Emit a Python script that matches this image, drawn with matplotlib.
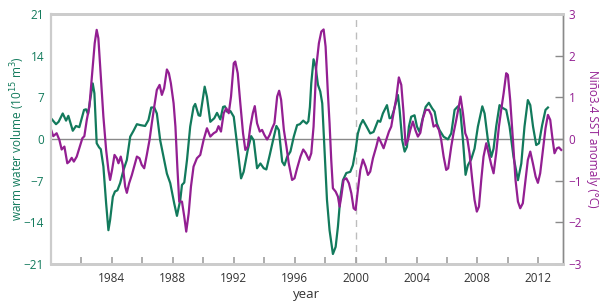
import matplotlib
matplotlib.use('Agg')
import matplotlib.pyplot as plt

plt.rcParams['font.family'] = ['Open Sans', 'DejaVu Sans']

GREEN = '#127a5c'
PURPLE = '#931f92'

# warm water volume (10^15 m^3)
wwv_year = [1980.0, 1980.33, 1980.5, 1980.77, 1980.99, 1981.14, 1981.43, 1981.64,
            1981.86, 1982.17, 1982.3, 1982.43, 1982.74, 1982.85, 1983.0, 1983.16,
            1983.27, 1983.44, 1983.62, 1983.77, 1983.88, 1984.06, 1984.2, 1984.36,
            1984.54, 1984.76, 1984.98, 1985.2, 1985.42, 1985.64, 1985.86, 1986.18,
            1986.4, 1986.58, 1986.78, 1986.95, 1987.17, 1987.39, 1987.61, 1987.83,
            1988.09, 1988.27, 1988.49, 1988.6, 1988.75, 1988.93, 1989.14, 1989.36,
            1989.47, 1989.69, 1989.8, 1990.09, 1990.24, 1990.46, 1990.72, 1990.9,
            1991.12, 1991.3, 1991.42, 1991.56, 1991.78, 1992.0, 1992.21, 1992.48,
            1992.65, 1992.92, 1993.14, 1993.31, 1993.53, 1993.75, 1993.97, 1994.14,
            1994.36, 1994.58, 1994.8, 1994.96, 1995.18, 1995.33, 1995.5, 1995.72,
            1995.94, 1996.16, 1996.34, 1996.56, 1996.78, 1996.9, 1997.0, 1997.09,
            1997.24, 1997.37, 1997.53, 1997.68, 1997.81, 1997.96, 1998.12, 1998.29,
            1998.51, 1998.69, 1998.84, 1999.0, 1999.17, 1999.39, 1999.65, 1999.82,
            2000.0, 2000.15, 2000.31, 2000.48, 2000.7, 2000.96, 2001.18, 2001.47,
            2001.62, 2001.79, 2002.06, 2002.23, 2002.36, 2002.52, 2002.78, 2002.89,
            2003.06, 2003.22, 2003.37, 2003.5, 2003.65, 2003.87, 2004.03, 2004.2,
            2004.38, 2004.6, 2004.81, 2005.03, 2005.19, 2005.34, 2005.51, 2005.78,
            2006.06, 2006.28, 2006.5, 2006.72, 2006.87, 2007.05, 2007.22, 2007.37,
            2007.59, 2007.81, 2008.03, 2008.32, 2008.47, 2008.69, 2008.91, 2009.06,
            2009.23, 2009.45, 2009.67, 2009.89, 2010.11, 2010.37, 2010.66, 2010.88,
            2011.09, 2011.31, 2011.47, 2011.65, 2011.86, 2012.04, 2012.25, 2012.47,
            2012.63]
wwv = [3.5, 2.5, 2.9, 4.3, 3.1, 3.9, 1.4, 2.2,
       2.0, 4.9, 5.0, 4.2, 9.35, 7.7, -0.7, -1.4,
       -1.7, -4.6, -10.8, -15.3, -13.6, -9.7, -8.8, -8.6,
       -7.4, -5.2, -3.5, 0.4, 1.4, 2.5, 2.35, 2.2,
       3.2, 5.3, 5.3, 4.3, -0.2, -3.0, -5.8, -7.4,
       -10.8, -12.9, -10.2, -7.7, -7.3, -3.5, 2.1, 5.4,
       5.9, 4.0, 3.9, 8.8, 7.1, 2.9, 3.5, 4.4,
       3.3, 5.4, 5.5, 4.6, 4.7, 3.75, -0.7, -6.6,
       -5.5, -1.8, 0.5, -0.2, -4.9, -4.1, -4.9, -5.1,
       -2.7, -0.2, 2.2, 1.5, -3.8, -4.4, -3.0, -2.1,
       0.4, 2.35, 2.5, 3.1, 2.6, 3.0, 5.4, 9.4,
       13.4, 12.2, 9.1, 8.0, 6.0, -1.8, -10.2, -15.3,
       -19.3, -18.1, -14.7, -9.7, -6.9, -5.7, -5.5, -4.4,
       -1.8, 0.95, 2.35, 3.2, 2.2, 0.95, 1.2, 3.1,
       2.9, 4.3, 5.7, 3.5, 3.6, 4.9, 7.4, 4.9,
       -0.2, -2.1, -1.3, 2.1, 3.75, 4.0, 2.1, 1.2,
       3.2, 5.4, 6.1, 5.15, 4.6, 2.6, 1.5, 0.4,
       -0.05, 0.95, 4.9, 5.5, 4.9, -0.2, -6.0, -4.4,
       -3.4, -1.6, 2.1, 5.5, 4.3, -0.2, -3.0, -1.6,
       2.1, 5.7, 5.2, 4.9, 2.1, -3.0, -6.9, -4.1,
       2.1, 6.55, 5.7, 2.1, -1.0, -0.7, 2.35, 4.9,
       5.3]

# Nino3.4 SST anomaly (degC)
sst_year = [1980.0, 1980.15, 1980.37, 1980.55, 1980.7, 1980.88, 1981.07, 1981.2,
            1981.36, 1981.5, 1981.69, 1981.86, 1982.06, 1982.19, 1982.35, 1982.52,
            1982.74, 1982.87, 1983.0, 1983.11, 1983.27, 1983.44, 1983.62, 1983.77,
            1983.88, 1984.01, 1984.17, 1984.32, 1984.43, 1984.58, 1984.71, 1984.87,
            1984.98, 1985.13, 1985.31, 1985.46, 1985.64, 1985.81, 1985.96, 1986.12,
            1986.29, 1986.47, 1986.62, 1986.78, 1986.95, 1987.13, 1987.28, 1987.43,
            1987.61, 1987.74, 1987.87, 1988.05, 1988.17, 1988.3, 1988.42, 1988.6,
            1988.75, 1988.88, 1989.04, 1989.19, 1989.36, 1989.58, 1989.8, 1990.02,
            1990.24, 1990.46, 1990.68, 1990.86, 1991.0, 1991.16, 1991.34, 1991.51,
            1991.67, 1991.82, 1992.0, 1992.1, 1992.26, 1992.43, 1992.61, 1992.76,
            1992.92, 1993.09, 1993.25, 1993.38, 1993.53, 1993.71, 1993.86, 1994.01,
            1994.19, 1994.36, 1994.52, 1994.67, 1994.85, 1994.98, 1995.11, 1995.29,
            1995.46, 1995.61, 1995.83, 1995.99, 1996.16, 1996.38, 1996.56, 1996.72,
            1996.94, 1997.09, 1997.24, 1997.42, 1997.59, 1997.75, 1997.9, 1998.03,
            1998.18, 1998.29, 1998.4, 1998.51, 1998.69, 1998.84, 1998.95, 1999.06,
            1999.21, 1999.39, 1999.56, 1999.72, 1999.87, 2000.0, 2000.15, 2000.31,
            2000.48, 2000.66, 2000.81, 2000.96, 2001.14, 2001.36, 2001.51, 2001.68,
            2001.84, 2002.01, 2002.19, 2002.34, 2002.49, 2002.67, 2002.84, 2003.0,
            2003.15, 2003.28, 2003.44, 2003.59, 2003.76, 2003.94, 2004.09, 2004.25,
            2004.42, 2004.6, 2004.81, 2004.97, 2005.12, 2005.3, 2005.47, 2005.62,
            2005.78, 2005.95, 2006.08, 2006.28, 2006.43, 2006.61, 2006.78, 2006.89,
            2007.05, 2007.2, 2007.33, 2007.48, 2007.66, 2007.81, 2007.96, 2008.1,
            2008.25, 2008.4, 2008.58, 2008.73, 2008.91, 2009.06, 2009.23, 2009.41,
            2009.56, 2009.72, 2009.89, 2010.0, 2010.15, 2010.33, 2010.5, 2010.66,
            2010.81, 2010.98, 2011.16, 2011.31, 2011.47, 2011.64, 2011.82, 2011.97,
            2012.12, 2012.3, 2012.47, 2012.63, 2012.78, 2012.91, 2013.06, 2013.22,
            2013.35, 2013.5]
sst = [0.23, 0.07, 0.14, -0.02, -0.25, -0.18, -0.58, -0.54,
       -0.45, -0.54, -0.42, -0.22, 0.02, 0.07, 0.46, 0.78,
       1.74, 2.3, 2.62, 2.42, 1.5, 0.54, -0.26, -0.74,
       -0.98, -0.74, -0.38, -0.46, -0.58, -0.42, -0.62, -1.14,
       -1.29, -1.06, -0.86, -0.66, -0.42, -0.46, -0.62, -0.7,
       -0.38, -0.02, 0.38, 0.78, 1.18, 1.3, 1.06, 1.22,
       1.67, 1.58, 1.34, 0.86, 0.3, -0.7, -1.5, -1.5,
       -1.86, -2.22, -1.78, -1.14, -0.66, -0.46, -0.38, -0.02,
       0.26, 0.06, 0.14, 0.18, 0.31, 0.18, 0.62, 0.74,
       0.62, 1.02, 1.82, 1.86, 1.58, 0.86, 0.14, -0.26,
       -0.18, 0.3, 0.62, 0.79, 0.38, 0.18, 0.22, 0.1,
       -0.01, 0.1, 0.26, 0.38, 1.02, 1.16, 0.94, 0.22,
       -0.18, -0.58, -0.98, -0.94, -0.7, -0.42, -0.25, -0.33,
       -0.5, -0.34, 0.3, 1.74, 2.3, 2.58, 2.63, 2.22,
       1.1, 0.38, -0.5, -1.18, -1.26, -1.38, -1.62, -1.38,
       -0.98, -0.94, -1.06, -1.3, -1.66, -1.7, -1.22, -0.74,
       -0.49, -0.66, -0.86, -0.78, -0.46, -0.18, 0.04, -0.09,
       -0.22, -0.02, 0.18, 0.3, 0.62, 0.98, 1.48, 1.3,
       0.62, -0.14, -0.02, 0.22, 0.42, 0.2, 0.06, 0.15,
       0.5, 0.7, 0.7, 0.58, 0.3, 0.34, 0.22, -0.02,
       -0.42, -0.74, -0.7, -0.18, 0.14, 0.46, 0.79, 1.02,
       0.62, 0.14, 0.02, -0.34, -0.98, -1.46, -1.74, -1.62,
       -0.98, -0.42, -0.1, -0.34, -0.62, -0.82, -0.34, 0.3,
       0.7, 1.1, 1.58, 1.54, 0.94, -0.02, -0.98, -1.5,
       -1.66, -1.54, -0.98, -0.5, -0.3, -0.58, -0.9, -1.05,
       -0.82, -0.26, 0.26, 0.58, 0.46, 0.06, -0.34, -0.22,
       -0.2, -0.26]

x_ticks = list(range(1982, 2014, 2))
x_labels = [str(y) if y % 4 == 0 else '' for y in x_ticks]
left_ticks = [-21, -14, -7, 0, 7, 14, 21]
right_ticks = [-3, -2, -1, 0, 1, 2, 3]

fig = plt.figure(figsize=(6.1, 3.05), dpi=100)
ax = fig.add_axes([0.0836, 0.134, 0.8394, 0.82])
ax2 = ax.twinx()

# reference lines: zero and the year 2000
ax.axhline(0, color='#8a8a8a', lw=1.0, zorder=1)
ax.axvline(2000, color='#bdbdbd', lw=1.0, ls=(0, (5, 4)), zorder=1)

ax.plot(wwv_year, wwv, color=GREEN, lw=1.6, zorder=3, solid_joinstyle='round')
ax2.plot(sst_year, sst, color=PURPLE, lw=1.6, zorder=2, solid_joinstyle='round')

ax.set_xlim(1980, 2013.62)
ax.set_ylim(-21, 21)
ax2.set_ylim(-3, 3)

ax.set_xticks(x_ticks)
ax.set_xticklabels(x_labels)
ax.set_yticks(left_ticks)
ax.set_yticklabels([str(v).replace('-', '\u2212') for v in left_ticks])
ax2.set_yticks(right_ticks)
ax2.set_yticklabels([str(v).replace('-', '\u2212') for v in right_ticks])

ax.tick_params(axis='x', direction='in', length=5, width=1.2, color='#a0a0a0',
               labelsize=8.5, labelcolor='#333333', pad=6)
ax.tick_params(axis='y', length=0, labelsize=8.5, labelcolor=GREEN, pad=5)
ax2.tick_params(axis='y', direction='in', length=6, width=1.0, color='#8a8a8a',
                labelsize=8.5, labelcolor=PURPLE, pad=4)

for a in (ax, ax2):
    a.spines['top'].set_color('#cccccc')
    a.spines['top'].set_linewidth(2)
    a.spines['bottom'].set_color('#cccccc')
    a.spines['bottom'].set_linewidth(2)
    a.spines['left'].set_color('#cccccc')
    a.spines['left'].set_linewidth(1.5)
    a.spines['right'].set_color('#8a8a8a')
    a.spines['right'].set_linewidth(1.0)

ax.set_xlabel('year', fontsize=9.5, color='#333333', labelpad=2)
ax.set_ylabel('warm water volume (10$^{15}$ m$^{3}$)', fontsize=8.5,
              color=GREEN, va='center')
ax.yaxis.set_label_coords(-0.066, 0.5)
ax2.set_ylabel('Niño3.4 SST anomaly (°C)', fontsize=8.5, color=PURPLE,
               rotation=270, va='center')
ax2.yaxis.set_label_coords(1.058, 0.5)

fig.savefig('out.png', dpi=100)
